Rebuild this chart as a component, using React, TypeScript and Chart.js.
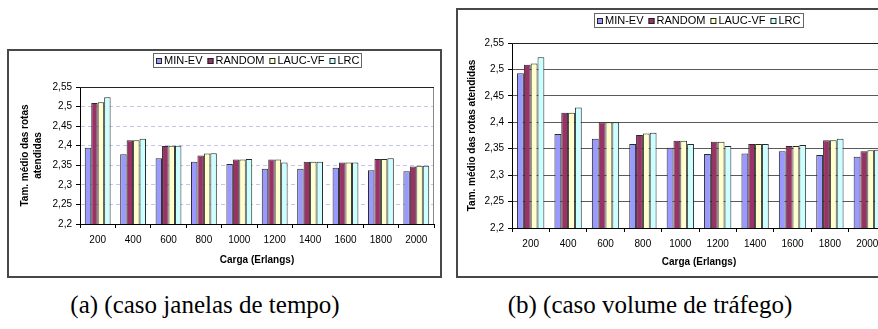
import React, { useEffect, useRef } from 'react';
import { Chart, registerables } from 'chart.js';
Chart.register(...registerables);

// ---------- data ----------
const categories = ['200', '400', '600', '800', '1000', '1200', '1400', '1600', '1800', '2000'];
const seriesNames = ['MIN-EV', 'RANDOM', 'LAUC-VF', 'LRC'];
const seriesColors = ['#9999FF', '#993366', '#FFFFCC', '#CCFFFF'];
const yTickValues = [2.2, 2.25, 2.3, 2.35, 2.4, 2.45, 2.5, 2.55];

// (a) caso janelas de tempo
const minEvA = [2.395, 2.378, 2.368, 2.359, 2.353, 2.341, 2.341, 2.344, 2.337, 2.335];
const randomA = [2.509, 2.414, 2.399, 2.375, 2.365, 2.365, 2.359, 2.357, 2.366, 2.347];
const laucA = [2.511, 2.414, 2.4, 2.38, 2.365, 2.365, 2.359, 2.357, 2.366, 2.349];
const lrcA = [2.524, 2.418, 2.4, 2.381, 2.366, 2.357, 2.359, 2.357, 2.368, 2.349];

// (b) caso volume de tráfego
const minEvB = [2.493, 2.378, 2.369, 2.359, 2.352, 2.34, 2.341, 2.345, 2.338, 2.335];
const randomB = [2.509, 2.418, 2.4, 2.376, 2.365, 2.363, 2.359, 2.355, 2.366, 2.345];
const laucB = [2.511, 2.418, 2.4, 2.379, 2.365, 2.363, 2.359, 2.355, 2.366, 2.347];
const lrcB = [2.523, 2.428, 2.4, 2.38, 2.359, 2.355, 2.359, 2.357, 2.369, 2.348];

const xTitle = 'Carga (Erlangs)';
const captionA = '(a) (caso janelas de tempo)';
const captionB = '(b) (caso volume de tráfego)';

const FONT = '"Liberation Sans", Arial, Helvetica, sans-serif';

const fmt = (v: number) => String(Math.round(v * 100) / 100).replace('.', ',');

const boxLegendPlugin = {
  id: 'boxLegend',
  afterDraw(chart: any, _args: any, opts: any) {
    if (!opts || !opts.display) return;
    const ctx = chart.ctx;
    ctx.save();
    ctx.fillStyle = '#fff';
    ctx.fillRect(opts.left, opts.top, opts.width, opts.height);
    ctx.strokeStyle = '#666';
    ctx.lineWidth = 1;
    ctx.strokeRect(opts.left + 0.5, opts.top + 0.5, opts.width - 1, opts.height - 1);
    ctx.font = `${opts.fontSize}px ${FONT}`;
    ctx.textBaseline = 'middle';
    ctx.textAlign = 'left';
    let x = opts.left + opts.padX;
    const cy = opts.top + opts.height / 2;
    const s = opts.swatch;
    chart.data.datasets.forEach((ds: any) => {
      const sy = Math.round(cy - s / 2);
      ctx.fillStyle = ds.backgroundColor;
      ctx.fillRect(x, sy, s, s);
      ctx.strokeStyle = '#222';
      ctx.strokeRect(x + 0.5, sy + 0.5, s - 1, s - 1);
      x += s + opts.gap;
      ctx.fillStyle = '#000';
      ctx.fillText(ds.label, x, cy + 0.5);
      x += ctx.measureText(ds.label).width + opts.itemGap;
    });
    ctx.restore();
  },
};

const plotFramePlugin = {
  id: 'plotFrame',
  beforeDatasetsDraw(chart: any, _args: any, opts: any) {
    const { left, right, top } = chart.chartArea;
    const ctx = chart.ctx;
    ctx.save();
    ctx.lineWidth = 1;
    ctx.strokeStyle = opts.rightColor;
    ctx.beginPath();
    ctx.moveTo(Math.round(right) - 0.5, top);
    ctx.lineTo(Math.round(right) - 0.5, chart.chartArea.bottom);
    ctx.stroke();
    ctx.strokeStyle = opts.topColor;
    ctx.beginPath();
    ctx.moveTo(left, Math.round(top) + 0.5);
    ctx.lineTo(right, Math.round(top) + 0.5);
    ctx.stroke();
    ctx.restore();
  },
};

type PanelProps = {
  left: number;
  top: number;
  cw: number;
  ch: number;
  series: number[][];
  gridColor: string;
  gridDash: number[];
  yTitle: string | string[];
  yTitlePad: number;
  yAxisWidth: number;
  xAxisHeight: number;
  padTop: number;
  padRight: number;
  xTickPad: number;
  xTitlePad: number;
  legend: { left: number; top: number; width: number; height: number };
};

function BarPanel(p: PanelProps) {
  const ref = useRef<HTMLCanvasElement | null>(null);
  useEffect(() => {
    if (!ref.current) return;
    const chart = new Chart(ref.current, {
      type: 'bar',
      data: {
        labels: categories,
        datasets: p.series.map((vals, i) => ({
          label: seriesNames[i],
          data: vals,
          backgroundColor: seriesColors[i],
          borderColor: '#2a2a2a',
          borderWidth: 1,
          categoryPercentage: 0.73,
          barPercentage: 1.0,
        })),
      },
      options: {
        responsive: false,
        animation: false,
        devicePixelRatio: 1,
        layout: { padding: { top: p.padTop, right: p.padRight, left: 0, bottom: 0 } },
        plugins: {
          legend: { display: false },
          tooltip: { enabled: false },
          title: { display: false },
          boxLegend: { display: true, ...p.legend, fontSize: 11, padX: 3, swatch: 6, gap: 2, itemGap: 5 },
          plotFrame: { topColor: '#222', rightColor: '#888' },
        } as any,
        scales: {
          x: {
            afterFit: (s: any) => {
              s.height = p.xAxisHeight;
            },
            ticks: { padding: p.xTickPad, font: { size: 10, family: FONT }, color: '#000', maxRotation: 0, autoSkip: false },
            grid: { offset: true, drawOnChartArea: false, drawTicks: true, tickLength: 4, tickColor: '#000', color: '#000' },
            border: { color: '#000', width: 1 },
            title: {
              display: true,
              text: xTitle,
              color: '#000',
              font: { size: 10, weight: 'bold', family: FONT, lineHeight: 1.2 },
              padding: { top: 0, bottom: p.xTitlePad },
            },
          },
          y: {
            min: 2.2,
            max: 2.55,
            afterBuildTicks: (s: any) => {
              s.ticks = yTickValues.map((v) => ({ value: v }));
            },
            afterFit: (s: any) => {
              s.width = p.yAxisWidth;
            },
            ticks: { padding: 4, font: { size: 10, family: FONT }, color: '#000', callback: (v: any) => fmt(Number(v)) },
            grid: { color: p.gridColor, lineWidth: 1, drawTicks: true, tickLength: 4, tickColor: '#000' },
            border: { color: '#000', width: 1, dash: p.gridDash },
            title: {
              display: true,
              text: p.yTitle,
              color: '#000',
              font: { size: 10, weight: 'bold', family: FONT, lineHeight: 1.3 },
              padding: { top: p.yTitlePad, bottom: 0 },
            },
          },
        },
      } as any,
      plugins: [plotFramePlugin, boxLegendPlugin],
    });
    return () => chart.destroy();
  }, []);
  return (
    <div
      style={{
        position: 'absolute',
        left: p.left,
        top: p.top,
        width: p.cw,
        height: p.ch,
        border: '2px solid #484848',
        background: '#fff',
      }}
    >
      <canvas ref={ref} width={p.cw} height={p.ch} style={{ width: p.cw, height: p.ch, display: 'block' }} />
    </div>
  );
}

export default function App() {
  return (
    <div
      style={{
        position: 'fixed',
        left: 0,
        top: 0,
        width: 878,
        height: 329,
        overflow: 'hidden',
        background: '#fff',
      }}
    >
      <BarPanel
        left={7}
        top={49}
        cw={431}
        ch={225}
        series={[minEvA, randomA, laucA, lrcA]}
        gridColor="#c4c4ec"
        gridDash={[4, 3]}
        yTitle={['Tam. médio das rotas', 'atendidas']}
        yTitlePad={10}
        yAxisWidth={71}
        xAxisHeight={52}
        padTop={36}
        padRight={6}
        xTickPad={6}
        xTitlePad={10}
        legend={{ left: 144, top: 2, width: 209, height: 15 }}
      />
      <BarPanel
        left={456}
        top={8}
        cw={434}
        ch={266}
        series={[minEvB, randomB, laucB, lrcB]}
        gridColor="#5a5a5a"
        gridDash={[]}
        yTitle="Tam. médio das rotas atendidas"
        yTitlePad={8}
        yAxisWidth={54}
        xAxisHeight={48}
        padTop={33}
        padRight={6}
        xTickPad={6}
        xTitlePad={8}
        legend={{ left: 136, top: 3, width: 210, height: 15 }}
      />
      <div
        style={{
          position: 'absolute',
          left: 0,
          top: 290,
          width: 410,
          textAlign: 'center',
          fontFamily: '"Liberation Serif", "Times New Roman", serif',
          fontSize: 25,
          lineHeight: '30px',
          color: '#000',
        }}
      >
        {captionA}
      </div>
      <div
        style={{
          position: 'absolute',
          left: 450,
          top: 290,
          width: 400,
          textAlign: 'center',
          fontFamily: '"Liberation Serif", "Times New Roman", serif',
          fontSize: 25,
          lineHeight: '30px',
          color: '#000',
        }}
      >
        {captionB}
      </div>
    </div>
  );
}
